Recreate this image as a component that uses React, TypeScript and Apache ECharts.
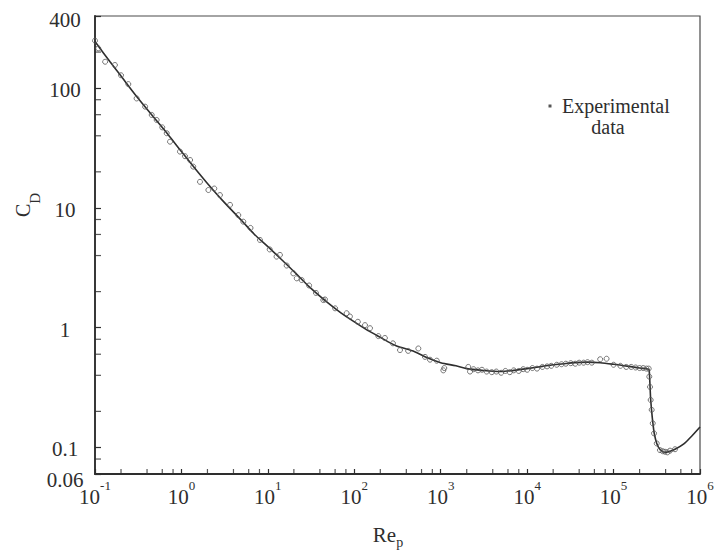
import { useEffect, useRef } from "react";
import * as echarts from "echarts";

const FONT = "Liberation Serif";
const INK = "#2e2e2e";

// Standard drag curve
const reCurve = [
  0.1, 0.15, 0.2, 0.3, 0.5, 0.7, 1, 1.5, 2, 3, 5, 7, 10, 15, 20, 30, 50, 70,
  100, 150, 200, 300, 500, 700, 1000, 1500, 2000, 3000, 5000, 7000, 10000,
  15000, 20000, 30000, 50000, 70000, 100000, 150000, 200000, 255000, 259000,
  263000, 268000, 276000, 285000, 295000, 316000, 345000, 390000, 450000,
  520000, 650000, 800000, 1000000,
];
const cdCurve = [
  245, 165, 126, 86, 55, 41, 29.5, 20.5, 16, 11.5, 7.8, 6.0, 4.75, 3.6, 2.95,
  2.2, 1.6, 1.33, 1.12, 0.93, 0.83, 0.71, 0.63, 0.56, 0.51, 0.48, 0.455, 0.44,
  0.43, 0.44, 0.455, 0.475, 0.49, 0.505, 0.515, 0.51, 0.495, 0.475, 0.46,
  0.45, 0.43, 0.35, 0.26, 0.2, 0.16, 0.132, 0.108, 0.096, 0.091, 0.093, 0.097,
  0.107, 0.124, 0.148,
];

const reExp = [
  0.1, 0.109, 0.131, 0.17, 0.2, 0.243, 0.303, 0.38, 0.453, 0.517, 0.6, 0.676,
  0.738, 0.962, 1.1, 1.26, 1.37, 1.64, 2.05, 2.4, 2.79, 3.65, 4.55, 5.2, 6.3,
  8.1, 10.5, 12.6, 13.8, 16.5, 19.7, 21.6, 24.6, 30, 36, 43.8, 45.8, 60, 81.6,
  89, 110, 133, 152, 190, 226, 280, 338, 420, 551, 658, 752, 900, 1072, 1100,
  2084, 2183, 2400, 2700, 3000, 3400, 3900, 4400, 5000, 5600, 6300, 7000,
  8000, 9000, 10000, 11500, 13000, 15000, 17000, 19000, 22000, 25000, 28000,
  32000, 36000, 40000, 45000, 50000, 56000, 70000, 83000, 100000, 120000,
  140000, 160000, 180000, 200000, 220000, 240000, 255000, 259000, 264000,
  268600, 276000, 284000, 294000, 316000, 344000, 370000, 394000, 420000,
  450000, 514000,
];
const cdExp = [
  249, 215, 166, 156, 128, 108, 82, 70, 59.7, 54.2, 47, 42, 35.7, 29.5, 27,
  25.1, 22.1, 16.5, 14.1, 14.5, 12.8, 10.6, 8.7, 7.67, 6.8, 5.4, 4.5, 3.92,
  4.05, 3.3, 2.84, 2.58, 2.5, 2.25, 1.95, 1.7, 1.72, 1.45, 1.32, 1.24, 1.12,
  1.05, 0.99, 0.85, 0.82, 0.74, 0.65, 0.64, 0.67, 0.57, 0.54, 0.53, 0.44,
  0.46, 0.47, 0.43, 0.45, 0.44, 0.445, 0.43, 0.425, 0.43, 0.42, 0.435, 0.425,
  0.44, 0.435, 0.45, 0.445, 0.46, 0.455, 0.47, 0.475, 0.48, 0.49, 0.495, 0.5,
  0.505, 0.5, 0.51, 0.51, 0.515, 0.51, 0.545, 0.55, 0.49, 0.48, 0.47, 0.47,
  0.465, 0.46, 0.46, 0.455, 0.455, 0.39, 0.32, 0.249, 0.206, 0.159, 0.131,
  0.108, 0.095, 0.093, 0.092, 0.091, 0.094, 0.0966,
];

// Axes
const xMin = 0.1;
const xMax = 1e6;
const yMin = 0.06;
const yMax = 400;
const yLabelValues = [0.06, 0.1, 1, 10, 100, 400];
const yLabelTexts = ["0.06", "0.1", "1", "10", "100", "400"];
const xDecadeExps = [-1, 0, 1, 2, 3, 4, 5];
const minorMults = [2, 4, 6, 8];
const yMinorTicks = [0.08, 0.2, 0.4, 0.6, 0.8, 2, 4, 6, 8, 20, 40, 60, 80, 200];

const xMinorTicks = xDecadeExps.flatMap((e) =>
  minorMults.map((m) => m * Math.pow(10, e))
);

export default function App() {
  const ref = useRef<HTMLDivElement>(null);

  useEffect(() => {
    if (!ref.current) return;
    const chart = echarts.init(ref.current, undefined, { renderer: "svg" });

    const yFormatter = (v: number) => {
      let best = 0;
      let bestD = Infinity;
      yLabelValues.forEach((t, i) => {
        const d = Math.abs(Math.log10(v) - Math.log10(t));
        if (d < bestD) {
          bestD = d;
          best = i;
        }
      });
      const key =
        best === 0 ? "lo" : best === yLabelValues.length - 1 ? "hi" : "n";
      return `{${key}|${yLabelTexts[best]}}`;
    };

    const xFormatter = (v: number) => {
      const e = Math.round(Math.log10(v));
      return `{b|10}{s|${e}}`;
    };

    const yRichBase = { fontSize: 21, fontFamily: FONT, color: INK };

    chart.setOption({
      animation: false,
      backgroundColor: "#ffffff",
      textStyle: { fontFamily: FONT },
      grid: {
        left: 95,
        right: 17,
        top: 16,
        bottom: 76,
        containLabel: false,
        outerBoundsMode: "none",
        show: true,
        borderColor: "#4a4a4a",
        borderWidth: 1.2,
        backgroundColor: "transparent",
      },
      xAxis: {
        type: "log",
        logBase: 10,
        min: xMin,
        max: xMax,
        axisLine: { show: true, onZero: false, lineStyle: { color: INK, width: 1.8 } },
        axisTick: { show: true, inside: true, length: 5, lineStyle: { color: INK, width: 1.2 } },
        splitLine: { show: false },
        minorTick: { show: false },
        axisLabel: {
          formatter: xFormatter,
          margin: 9,
          showMinLabel: true,
          showMaxLabel: true,
          rich: {
            b: {
              fontSize: 21,
              fontFamily: FONT,
              color: INK,
              lineHeight: 24,
              verticalAlign: "bottom",
            },
            s: {
              fontSize: 13,
              fontFamily: FONT,
              color: INK,
              lineHeight: 13,
              padding: [0, 0, 15, 0],
              verticalAlign: "bottom",
            },
          },
        },
      },
      yAxis: {
        type: "log",
        logBase: 10,
        min: yMin,
        max: yMax,
        axisLine: { show: true, onZero: false, lineStyle: { color: INK, width: 1.8 } },
        axisTick: { show: true, inside: true, length: 6, lineStyle: { color: INK, width: 1.2 } },
        splitLine: { show: false },
        minorTick: { show: false },
        axisLabel: {
          formatter: yFormatter,
          align: "center",
          margin: 30,
          showMinLabel: true,
          showMaxLabel: true,
          rich: {
            n: { ...yRichBase, padding: [4, 0, 0, 0] },
            lo: { ...yRichBase, padding: [12, 0, 0, 0] },
            hi: { ...yRichBase, padding: [8, 0, 0, 0] },
          },
        },
      },
      graphic: [
        {
          type: "text",
          x: 23,
          y: 205,
          rotation: Math.PI / 2,
          style: {
            text: "{c|C}{d|D}",
            align: "center",
            verticalAlign: "middle",
            rich: {
              c: { fontSize: 20, lineHeight: 20, fontFamily: FONT, fill: INK, verticalAlign: "top" },
              d: {
                fontSize: 15,
                lineHeight: 15,
                fontFamily: FONT,
                fill: INK,
                padding: [14, 0, 0, 0],
                verticalAlign: "top",
              },
            },
          },
        },
        {
          type: "text",
          x: 388,
          y: 535,
          style: {
            text: "{r|Re}{p|p}",
            align: "center",
            verticalAlign: "middle",
            rich: {
              r: { fontSize: 21, lineHeight: 21, fontFamily: FONT, fill: INK, verticalAlign: "top" },
              p: {
                fontSize: 14,
                lineHeight: 14,
                fontFamily: FONT,
                fill: INK,
                padding: [11, 0, 0, 0],
                verticalAlign: "top",
              },
            },
          },
        },
        {
          type: "rect",
          shape: { x: 548.5, y: 104.5, width: 3, height: 3 },
          style: { fill: "#555" },
        },
        {
          type: "text",
          x: 562,
          y: 106,
          style: {
            text: "Experimental",
            fontSize: 20,
            fontFamily: FONT,
            fill: INK,
            align: "left",
            verticalAlign: "middle",
          },
        },
        {
          type: "text",
          x: 608,
          y: 127,
          style: {
            text: "data",
            fontSize: 20,
            fontFamily: FONT,
            fill: INK,
            align: "center",
            verticalAlign: "middle",
          },
        },
      ],
      series: [
        {
          name: "Drag curve",
          type: "line",
          data: reCurve.map((r, i) => [r, cdCurve[i]]),
          showSymbol: false,
          smooth: 0.3,
          lineStyle: { color: INK, width: 1.6 },
          z: 3,
          silent: true,
        },
        {
          name: "Experimental data",
          type: "scatter",
          data: reExp.map((r, i) => [r, cdExp[i]]),
          symbol: "circle",
          symbolSize: 5,
          itemStyle: {
            color: "rgba(255,255,255,0)",
            borderColor: "#555",
            borderWidth: 1,
          },
          z: 4,
          silent: true,
        },
        {
          name: "x minor ticks",
          type: "scatter",
          data: xMinorTicks.map((v) => [v, yMin]),
          symbol: "rect",
          symbolSize: [1.2, 5],
          symbolOffset: [0, -2.5],
          itemStyle: { color: INK },
          clip: false,
          silent: true,
          z: 5,
        },
        {
          name: "y minor ticks",
          type: "scatter",
          data: yMinorTicks.map((v) => [xMin, v]),
          symbol: "rect",
          symbolSize: [6, 1.2],
          symbolOffset: [3, 0],
          itemStyle: { color: INK },
          clip: false,
          silent: true,
          z: 5,
        },
      ],
    });

    return () => chart.dispose();
  }, []);

  return (
    <div
      ref={ref}
      style={{
        position: "fixed",
        left: 0,
        top: 0,
        width: 717,
        height: 550,
        background: "#ffffff",
      }}
    />
  );
}
